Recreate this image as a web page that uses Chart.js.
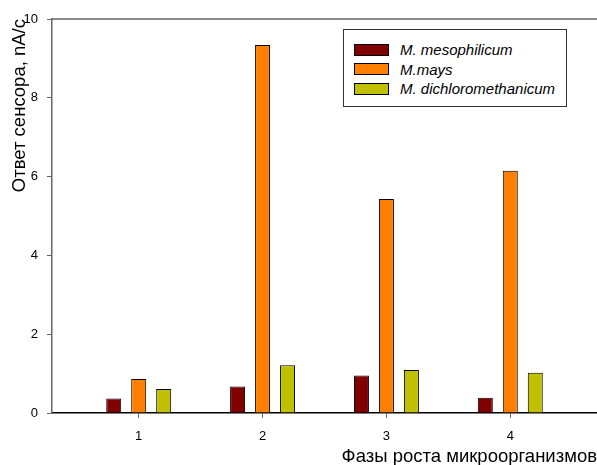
<!DOCTYPE html>
<html>
<head>
<meta charset="utf-8">
<script src="https://cdn.jsdelivr.net/npm/chart.js@4"></script>
<style>
    body { margin: 0; background: #fff; }
    #wrap { position: relative; width: 597px; height: 465px; }
    #legend {
        position: absolute; left: 343px; top: 29px; width: 224px; height: 78px;
        border: 1px solid #333; background: #fff;
        font: italic 15px "Liberation Sans", Arial, sans-serif; color: #000;
        padding-top: 10px; box-sizing: border-box;
    }
    .legend-item { display: flex; align-items: center; height: 19.5px; padding-left: 10px; }
    .legend-color { width: 33px; height: 10px; border: 1px solid #000; margin-right: 11px; }
</style>
</head>
<body>
<div id="wrap">
    <canvas id="chart" width="597" height="465"></canvas>
    <div id="legend"></div>
</div>
<script>
const phases = [1, 2, 3, 4];
const mesophilicum = [0.37, 0.67, 0.95, 0.39];
const mays = [0.86, 9.34, 5.43, 6.15];
const dichloromethanicum = [0.61, 1.21, 1.09, 1.02];
const seriesNames = ['M. mesophilicum', 'M.mays', 'M. dichloromethanicum'];
const seriesColors = ['#800000', '#ff8000', '#c0c000'];
const yTicks = [0, 2, 4, 6, 8, 10];

const font = "'Liberation Sans', Arial, sans-serif";

function toPoints(values) {
    return values.map((v, i) => ({ x: phases[i], y: v }));
}

const datasets = [mesophilicum, mays, dichloromethanicum].map((vals, i) => ({
    label: seriesNames[i],
    data: toPoints(vals),
    backgroundColor: seriesColors[i],
    borderColor: '#000',
    borderWidth: 1,
    categoryPercentage: 0.605,
    barPercentage: 0.6
}));

// top frame line of the plot area
const topLine = {
    id: 'topLine',
    afterDraw(chart) {
        const { ctx, chartArea } = chart;
        ctx.save();
        ctx.strokeStyle = '#666';
        ctx.lineWidth = 1.5;
        ctx.beginPath();
        ctx.moveTo(chartArea.left, chartArea.top);
        ctx.lineTo(chartArea.right, chartArea.top);
        ctx.stroke();
        ctx.restore();
    }
};

new Chart(document.getElementById('chart').getContext('2d'), {
    type: 'bar',
    data: { datasets },
    plugins: [topLine],
    options: {
        responsive: false,
        animation: false,
        layout: { padding: { top: 19, right: 0, left: 0, bottom: 0 } },
        plugins: {
            legend: { display: false },
            tooltip: { enabled: false }
        },
        scales: {
            x: {
                type: 'linear',
                min: 0.3,
                max: 4.7,
                offset: false,
                afterFit: (s) => { s.height = 52; },
                afterBuildTicks: (s) => { s.ticks = phases.map(v => ({ value: v })); },
                ticks: {
                    stepSize: 1,
                    includeBounds: false,
                    padding: 11,
                    color: '#000',
                    font: { family: font, size: 13 },
                    maxRotation: 0
                },
                grid: { display: true, offset: false, drawOnChartArea: false, drawTicks: true, tickLength: 5, tickColor: '#666' },
                border: { display: true, color: '#000', width: 1.5 },
                title: {
                    display: true,
                    text: 'Фазы роста микроорганизмов',
                    align: 'end',
                    color: '#000',
                    font: { family: font, size: 18.5, lineHeight: 1 },
                    padding: { top: 0, bottom: -1 }
                }
            },
            y: {
                min: 0,
                max: 10,
                afterFit: (s) => { s.width = 52; },
                afterBuildTicks: (s) => { s.ticks = yTicks.map(v => ({ value: v })); },
                ticks: {
                    stepSize: 2,
                    padding: 9,
                    color: '#000',
                    font: { family: font, size: 13 }
                },
                grid: { display: true, drawOnChartArea: false, drawTicks: true, tickLength: 5, tickColor: '#666' },
                border: { display: true, color: '#666', width: 1.5 },
                title: {
                    display: true,
                    text: 'Ответ сенсора, nA/c',
                    align: 'end',
                    color: '#000',
                    font: { family: font, size: 18.5, lineHeight: 1 },
                    padding: { top: 11, bottom: 0 }
                }
            }
        }
    }
});

// legend box
const legend = document.getElementById('legend');
seriesNames.forEach((name, i) => {
    legend.innerHTML += `
        <div class="legend-item">
            <div class="legend-color" style="background: ${seriesColors[i]}"></div>
            <span>${name}</span>
        </div>
    `;
});
</script>
</body>
</html>
